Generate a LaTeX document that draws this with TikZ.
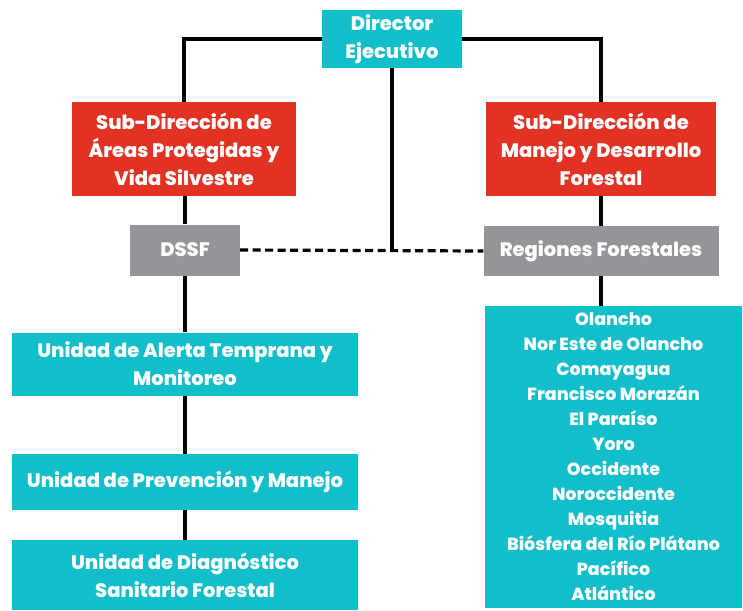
\documentclass[tikz,border=0pt]{standalone}
\usepackage{fontspec}
\setmainfont{Poppins}[BoldFont={Poppins ExtraBold}]
\definecolor{boxteal}{RGB}{18,190,202}
\definecolor{boxred}{RGB}{226,50,36}
\definecolor{boxgray}{RGB}{148,149,152}
\begin{document}
\begin{tikzpicture}[x=1pt,y=-1pt,
  base/.style={rectangle, inner sep=0pt, text=white, align=center,
    font=\bfseries\fontsize{19.5}{28}\selectfont},
  tealbox/.style={base, fill=boxteal},
  redbox/.style={base, fill=boxred},
  graybox/.style={base, fill=boxgray},
  listbox/.style={base, fill=boxteal, font=\bfseries\fontsize{17.5}{25}\selectfont},
  link/.style={draw=black, line width=3.2pt},
  dlink/.style={draw=black, line width=3.2pt, dash pattern=on 8pt off 4.5pt}]
\useasboundingbox (0,0) rectangle (743,610);
\fill[white] (0,0) rectangle (743,610);

\node[tealbox, minimum width=140pt, minimum height=58pt] (dir) at (392,39)
  {Director\\Ejecutivo};
\node[redbox, minimum width=224pt, minimum height=94pt] (subl) at (184,149)
  {Sub-Dirección de\\Áreas Protegidas y\\Vida Silvestre};
\node[redbox, minimum width=230pt, minimum height=94pt] (subr) at (601,149)
  {Sub-Dirección de\\Manejo y Desarrollo\\Forestal};
\node[graybox, minimum width=110pt, minimum height=51pt] (dssf) at (185,250)
  {DSSF};
\node[graybox, minimum width=235pt, minimum height=50pt] (reg) at (601,251)
  {Regiones Forestales};
\node[tealbox, minimum width=346pt, minimum height=63pt] (u1) at (185,364)
  {Unidad de Alerta Temprana y\\Monitoreo};
\node[tealbox, minimum width=346pt, minimum height=56pt] (u2) at (185,482)
  {Unidad de Prevención y Manejo};
\node[tealbox, minimum width=346pt, minimum height=70pt] (u3) at (185,575)
  {Unidad de Diagnóstico\\Sanitario Forestal};
\node[listbox, minimum width=257pt, minimum height=302pt] (list) at (613.5,457)
  {Olancho\\Nor Este de Olancho\\Comayagua\\Francisco Morazán\\El Paraíso\\Yoro\\Occidente\\Noroccidente\\Mosquitia\\Biósfera del Río Plátano\\Pacífico\\Atlántico};

\coordinate (junc) at (dir.south |- dssf.east);

\draw[link] (dir.west) -| (subl.north);
\draw[link] (dir.east) -| (subr.north);
\draw[link] (dir.south) -- (junc);
\draw[dlink] (dssf.east) -- (reg.west);
\draw[link] (subl.south -| dssf.north) -- (dssf.north);
\draw[link] (dssf.south) -- (u1.north);
\draw[link] (u1.south) -- (u2.north);
\draw[link] (u2.south) -- (u3.north);
\draw[link] (subr.south) -- (reg.north);
\draw[link] (reg.south) -- (reg.south |- list.north);
\end{tikzpicture}
\end{document}
